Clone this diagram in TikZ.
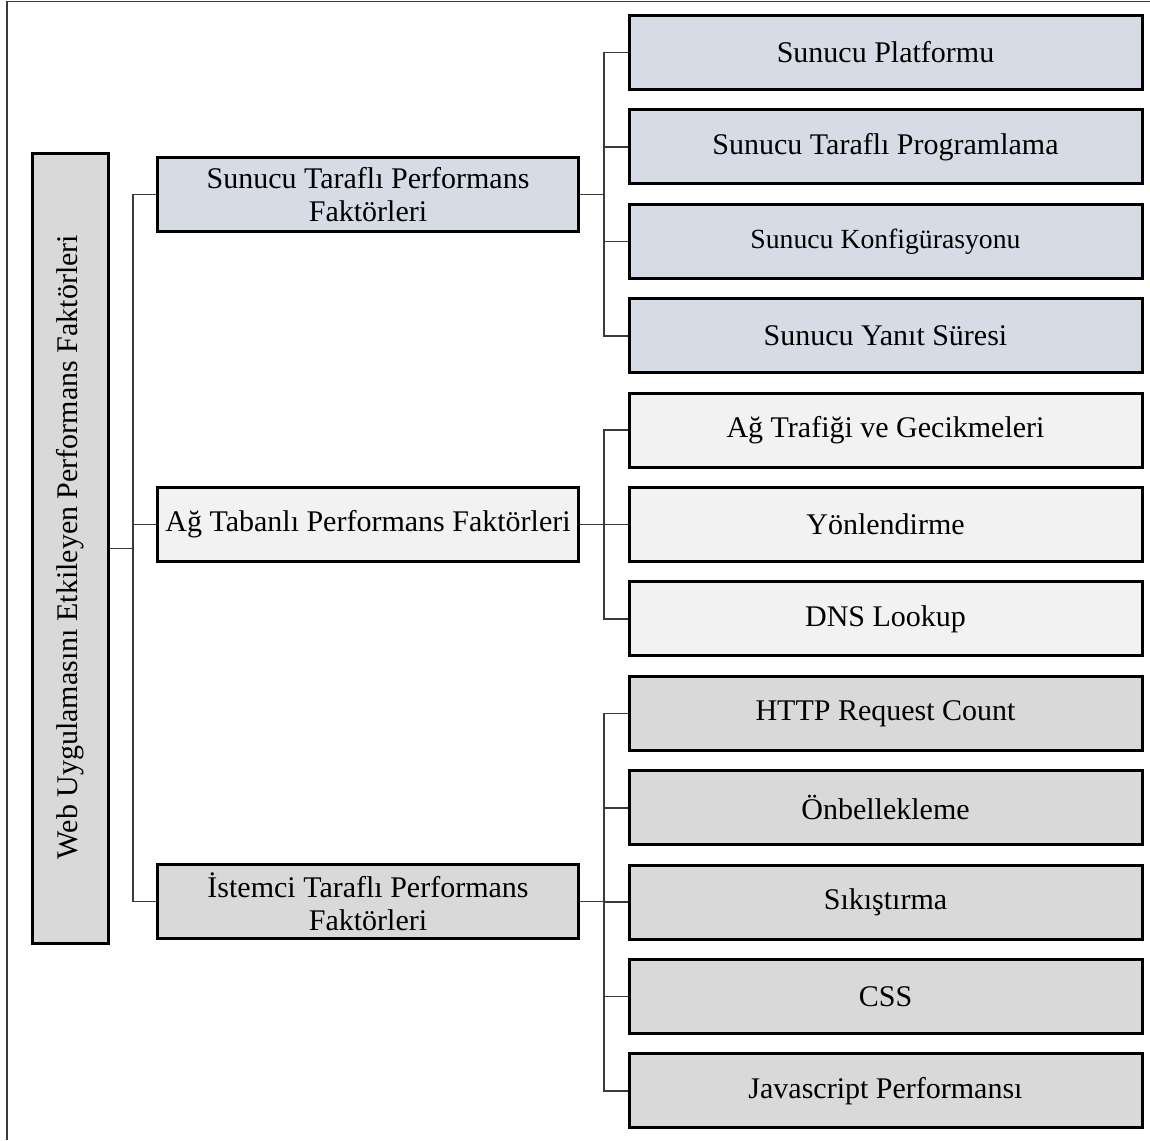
\documentclass[tikz,border=0pt]{standalone}
\usepackage{fontspec}
\setmainfont{Liberation Serif}
\definecolor{srvfill}{HTML}{D6DCE5}
\definecolor{netfill}{HTML}{F2F2F2}
\definecolor{clifill}{HTML}{D9D9D9}
\definecolor{linkcol}{HTML}{3A3A3A}
\tikzset{
  box/.style={draw=black, line width=3pt, inner sep=0pt, align=center,
    font=\fontsize{30}{33}\selectfont},
  leafbox/.style={box, minimum width=513pt, minimum height=74pt},
  midbox/.style={box, minimum width=421pt, minimum height=74pt},
  link/.style={draw=linkcol, line width=1.6pt},
}
\newcommand{\smallertext}{\fontsize{27.7}{31}\selectfont}
\begin{document}
\begin{tikzpicture}[x=1pt,y=-1pt]
\useasboundingbox (0,0) rectangle (1150,1140);
\draw[line width=1.3pt, draw=linkcol] (7,1140) -- (7,1.5) -- (1150,1.5);

% root
\node[box, fill=clifill, minimum width=76pt, minimum height=790pt] (root) at (70,548.5)
  {};
\node[rotate=90, font=\fontsize{30}{33}\selectfont] (roottext) at (70,547) {Web Uygulamasını Etkileyen Performans Faktörleri};

% middle
\node[midbox, fill=srvfill] (srv) at (368,194.5) {Sunucu Taraflı Performans\\Faktörleri};
\node[midbox, fill=netfill] (net) at (368,524.5) {Ağ Tabanlı Performans Faktörleri};
\node[midbox, fill=clifill] (cli) at (368,901.5) {İstemci Taraflı Performans\\Faktörleri};

% leaves
\foreach \i/\t/\c in {0/Sunucu Platformu/srvfill, 1/Sunucu Taraflı Programlama/srvfill,
  2/{\smallertext Sunucu Konfigürasyonu}/srvfill, 3/Sunucu Yanıt Süresi/srvfill,
  4/Ağ Trafiği ve Gecikmeleri/netfill, 5/Yönlendirme/netfill, 6/DNS Lookup/netfill,
  7/HTTP Request Count/clifill, 8/Önbellekleme/clifill, 9/Sıkıştırma/clifill,
  10/CSS/clifill, 11/Javascript Performansı/clifill}
  \node[leafbox, fill=\c] (l\i) at (885.5,{52.5+94.4*\i}) {\t};

% root connectors
\coordinate (rb) at (133,548.5);
\draw[link] (root.east) -- (rb);
\draw[link] (srv.west) -| (rb) |- (cli.west);
\draw[link] (133,524.5) -- (net.west);

% server group
\coordinate (sb) at (604,194.5);
\draw[link] (srv.east) -- (sb);
\draw[link] (l0.west) -| (sb) |- (l3.west);
\draw[link] (604,0|-l1.west) -- (l1.west);
\draw[link] (604,0|-l2.west) -- (l2.west);

% network group
\coordinate (nb) at (604,524.5);
\draw[link] (net.east) -- (nb);
\draw[link] (l4.west) -| (nb) |- (l6.west);
\draw[link] (604,0|-l5.west) -- (l5.west);

% client group
\coordinate (cb) at (604,901.5);
\draw[link] (cli.east) -- (cb);
\draw[link] (l7.west) -| (cb) |- (l11.west);
\draw[link] (604,0|-l8.west) -- (l8.west);
\draw[link] (604,0|-l9.west) -- (l9.west);
\draw[link] (604,0|-l10.west) -- (l10.west);
\end{tikzpicture}
\end{document}
